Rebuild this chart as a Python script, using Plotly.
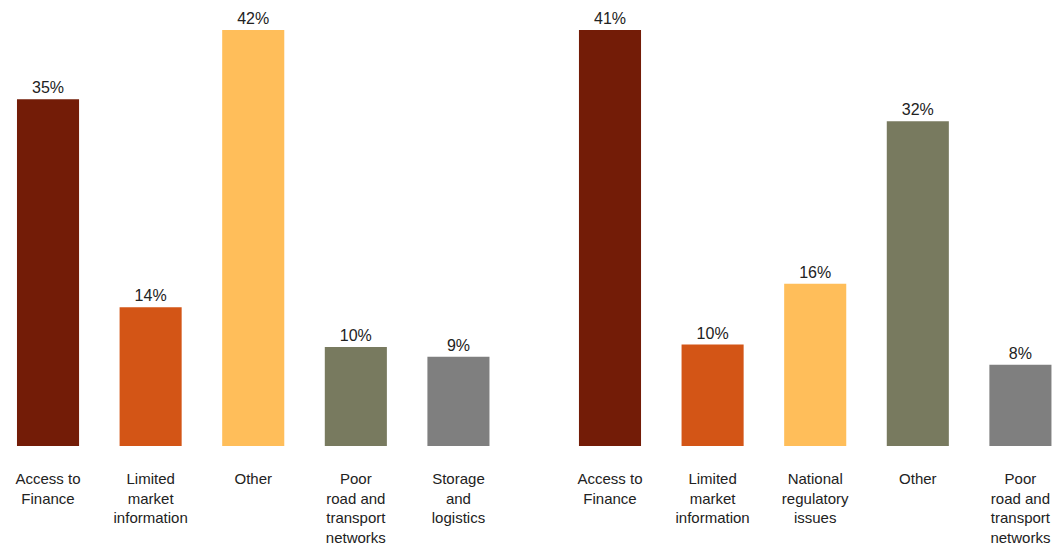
import plotly.graph_objects as go
from plotly.subplots import make_subplots

# Left panel
left_categories = [
    "Access to<br>Finance",
    "Limited<br>market<br>information",
    "Other",
    "Poor<br>road and<br>transport<br>networks",
    "Storage<br>and<br>logistics",
]
left_values = [35, 14, 42, 10, 9]

# Right panel
right_categories = [
    "Access to<br>Finance",
    "Limited<br>market<br>information",
    "National<br>regulatory<br>issues",
    "Other",
    "Poor<br>road and<br>transport<br>networks",
]
right_values = [41, 10, 16, 32, 8]

bar_colors = ["#731C07", "#D35516", "#FFBE5A", "#787A5F", "#7F7F7F"]
text_color = "#222222"
font_family = "Liberation Sans, Arial, sans-serif"

fig = make_subplots(rows=1, cols=2, horizontal_spacing=0.0)

for col, (cats, vals) in enumerate([(left_categories, left_values),
                                     (right_categories, right_values)], start=1):
    fig.add_trace(
        go.Bar(
            x=cats,
            y=vals,
            marker=dict(color=bar_colors, line=dict(width=0)),
            text=[f"{v}%" for v in vals],
            textposition="outside",
            textfont=dict(size=16, color=text_color, family=font_family),
            cliponaxis=False,
            showlegend=False,
        ),
        row=1, col=col,
    )

fig.update_layout(
    width=1055,
    height=547,
    margin=dict(l=0, r=0, t=0, b=101),
    paper_bgcolor="white",
    plot_bgcolor="white",
    bargap=0.395,
    font=dict(family=font_family, color=text_color),
    uniformtext=dict(mode=False),
)

axis_common = dict(
    showgrid=False,
    zeroline=False,
    showline=False,
    ticks="",
    tickfont=dict(size=15, color=text_color, family=font_family),
    tickangle=0,
    ticklabelstandoff=22,
)
fig.update_xaxes(**axis_common)
fig.update_xaxes(domain=[0.0, 0.5], range=[-0.468, 4.673], row=1, col=1)
fig.update_xaxes(domain=[0.5, 1.0], range=[-0.804, 4.337], row=1, col=2)

fig.update_yaxes(showgrid=False, zeroline=False, showline=False,
                 showticklabels=False, ticks="")
fig.update_yaxes(range=[0, 45.03], row=1, col=1)
fig.update_yaxes(range=[0, 43.96], row=1, col=2)

fig.write_html("out.html")
